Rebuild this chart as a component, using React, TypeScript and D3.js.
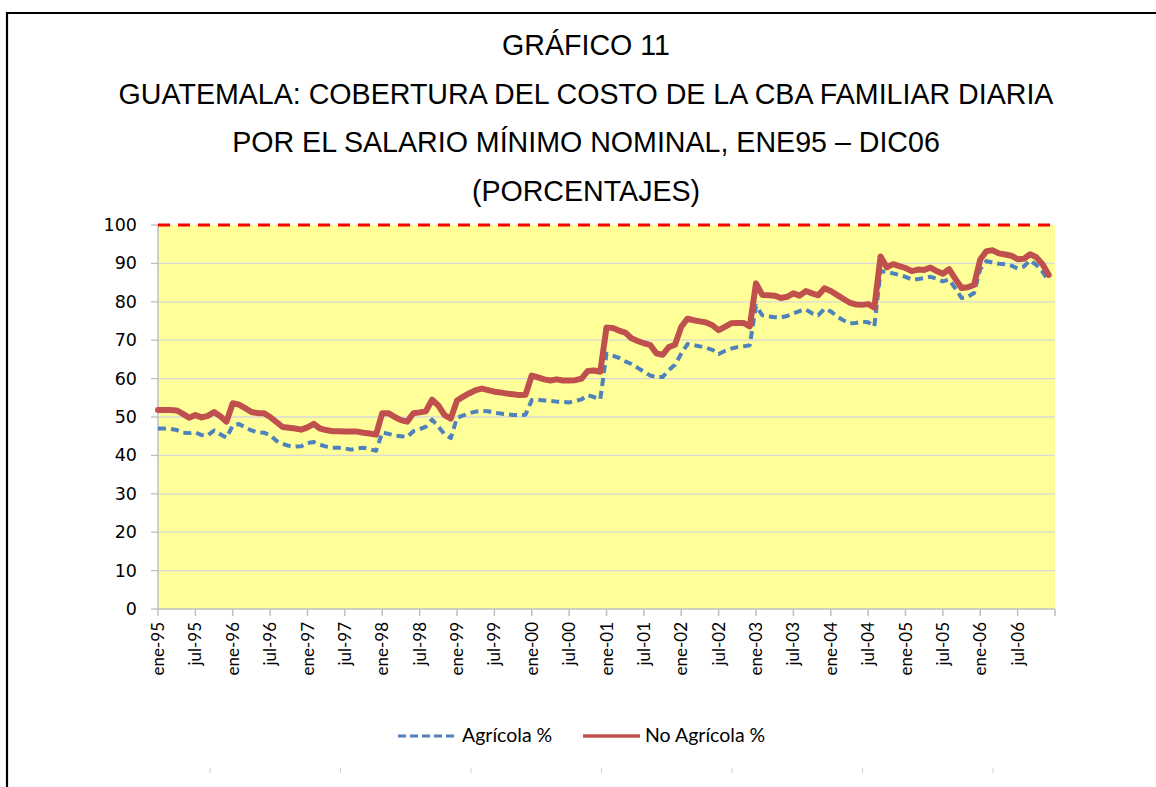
import React from "react";
import * as d3 from "d3";

const titleLines = [
  "GRÁFICO 11",
  "GUATEMALA: COBERTURA DEL COSTO DE LA CBA FAMILIAR DIARIA",
  "POR EL SALARIO MÍNIMO NOMINAL, ENE95 – DIC06",
  "(PORCENTAJES)",
];

const xTickLabels = [
  "ene-95", "jul-95", "ene-96", "jul-96", "ene-97", "jul-97", "ene-98", "jul-98",
  "ene-99", "jul-99", "ene-00", "jul-00", "ene-01", "jul-01", "ene-02", "jul-02",
  "ene-03", "jul-03", "ene-04", "jul-04", "ene-05", "jul-05", "ene-06", "jul-06",
];

const yTicks = [0, 10, 20, 30, 40, 50, 60, 70, 80, 90, 100];

const noAgricola = [
  51.8, 51.8, 51.8, 51.7, 50.8, 49.8, 50.5, 49.9, 50.3, 51.3, 50.2, 48.8,
  53.6, 53.2, 52.3, 51.3, 51.0, 51.0, 50.0, 48.7, 47.4, 47.2, 47.0, 46.7,
  47.3, 48.2, 47.0, 46.6, 46.3, 46.3, 46.2, 46.2, 46.2, 45.9, 45.7, 45.4,
  51.0, 51.0, 50.0, 49.2, 48.8, 51.0, 51.2, 51.5, 54.5, 53.0, 50.5, 49.6,
  54.3, 55.3, 56.2, 57.0, 57.4, 57.0, 56.6, 56.4, 56.1, 55.9, 55.7, 55.8,
  60.8, 60.3, 59.8, 59.5, 59.8, 59.5, 59.5, 59.6, 60.0, 62.0, 62.1, 61.8,
  73.3, 73.2, 72.5, 72.0, 70.5, 69.8, 69.2, 68.8, 66.6, 66.2, 68.2, 68.8,
  73.5, 75.6, 75.2, 74.9, 74.6, 73.9, 72.6, 73.5, 74.4, 74.5, 74.5, 73.6,
  84.8, 81.8, 81.7, 81.6, 81.0, 81.3, 82.2, 81.6, 82.8, 82.2, 81.7, 83.5,
  82.8, 81.8, 80.8, 79.8, 79.3, 79.2, 79.4, 78.5, 91.8, 89.0, 89.8, 89.3,
  88.8, 88.0, 88.4, 88.3, 88.9, 88.0, 87.3, 88.5, 86.0, 83.6, 83.8, 84.4,
  91.0, 93.2, 93.4, 92.6, 92.3, 92.0, 91.1, 91.2, 92.4, 91.6, 89.8, 87.0,
];

const agricola = [
  47.0, 47.0, 46.9, 46.6, 45.9, 45.8, 46.0, 45.3, 45.2, 46.5, 45.5, 44.6,
  47.8, 48.2, 47.3, 46.5, 46.0, 45.9, 45.3, 43.8, 43.0, 42.5, 42.3, 42.4,
  43.2, 43.5, 42.8, 42.3, 42.0, 42.0, 41.8, 41.5, 41.8, 42.0, 41.6, 41.2,
  46.0, 45.6, 45.2, 45.0, 44.8, 46.3, 46.8, 47.5, 49.3, 47.5, 45.5, 44.5,
  49.8, 50.4, 51.0, 51.4, 51.6, 51.5, 51.1, 50.9, 50.7, 50.5, 50.5, 50.6,
  54.4, 54.5, 54.3, 54.2, 54.0, 53.9, 53.8, 54.2, 54.6, 55.7, 55.2, 54.6,
  66.5, 66.0, 65.4, 64.5, 63.8, 62.8, 61.8, 60.8, 60.4, 60.4, 62.2, 63.6,
  66.5, 69.0, 68.7, 68.4, 68.0, 67.5, 66.4, 67.2, 67.8, 68.2, 68.4, 68.7,
  79.0, 76.5, 76.2, 76.0, 75.9, 76.3, 77.0, 77.6, 78.0, 77.0, 76.5, 78.2,
  77.5, 76.2, 75.2, 74.4, 74.5, 74.8, 74.7, 73.6, 88.0, 87.8, 87.4, 87.0,
  86.5, 85.8, 85.9, 86.2, 86.5, 86.0, 85.3, 85.8, 83.5, 81.0, 81.3, 82.3,
  88.5, 90.6, 90.2, 89.9, 89.8, 89.4, 88.7, 89.2, 90.8, 89.6, 87.8, 85.4,
];

const legendLabels = ["Agrícola %", "No Agrícola %"];
const footerMarks = [210, 340.5, 471, 601.5, 732, 862.5, 993];

const W = 1156;
const H = 787;
const plotL = 158;
const plotR = 1055;
const plotT = 225;
const plotB = 609;

export default function App() {
  const x = d3.scaleLinear().domain([0, 144]).range([plotL, plotR]);
  const y = d3.scaleLinear().domain([0, 100]).range([plotB, plotT]);
  const line = d3
    .line<number>()
    .x((_, i) => x(i))
    .y((d) => y(d));
  const blue = "#4F81BD";
  const red = "#C0504D";
  const axisGray = "#BFBFBF";
  const labelFont = "'Lato', 'Open Sans', sans-serif";

  return (
    <svg
      width={W}
      height={H}
      style={{ position: "absolute", left: 0, top: 0, background: "#fff" }}
    >
      <rect x={0} y={0} width={W} height={H} fill="#fff" />
      {/* frame */}
      <line x1={7} y1={13} x2={W} y2={13} stroke="#000" strokeWidth={2.2} />
      <line x1={7} y1={12} x2={7} y2={H} stroke="#000" strokeWidth={2.2} />

      {titleLines.map((t, i) => (
        <text
          key={i}
          x={586}
          y={55 + i * 48.5}
          textAnchor="middle"
          fontFamily="'Liberation Sans', Arial, sans-serif"
          fontSize={28.6}
          fill="#000"
        >
          {t}
        </text>
      ))}

      <rect
        x={plotL}
        y={plotT}
        width={plotR - plotL}
        height={plotB - plotT}
        fill="#FFFF99"
      />
      {yTicks.slice(1, -1).map((t) => (
        <line
          key={t}
          x1={plotL}
          x2={plotR}
          y1={y(t)}
          y2={y(t)}
          stroke="#D9D9D9"
          strokeWidth={1.3}
        />
      ))}
      {yTicks.map((t) => (
        <g key={"yt" + t}>
          <line
            x1={plotL - 7}
            x2={plotL}
            y1={y(t)}
            y2={y(t)}
            stroke={axisGray}
            strokeWidth={1.3}
          />
          <text
            x={137}
            y={y(t) + 6}
            textAnchor="end"
            fontFamily="'DejaVu Sans', Verdana, sans-serif"
            fontSize={17.5}
            fill="#000"
          >
            {t}
          </text>
        </g>
      ))}
      <line x1={plotL} x2={plotL} y1={plotT} y2={plotB} stroke={axisGray} strokeWidth={1.5} />
      <line x1={plotL} x2={plotR} y1={plotB} y2={plotB} stroke={axisGray} strokeWidth={1.5} />
      {d3.range(0, 145, 6).map((i) => (
        <line
          key={"xt" + i}
          x1={x(i)}
          x2={x(i)}
          y1={plotB}
          y2={plotB + 7}
          stroke={axisGray}
          strokeWidth={1.5}
        />
      ))}
      {xTickLabels.map((lab, k) => (
        <text
          key={lab}
          transform={`translate(${x(k * 6) + 6},${plotB + 13}) rotate(-90)`}
          textAnchor="end"
          fontFamily={labelFont}
          fontSize={17}
          fill="#000"
        >
          {lab}
        </text>
      ))}

      {/* 100% reference */}
      <line
        x1={plotL}
        x2={plotR}
        y1={y(100)}
        y2={y(100)}
        stroke="#FF0000"
        strokeWidth={3}
        strokeDasharray="12 8"
      />

      <path
        d={line(agricola) || ""}
        fill="none"
        stroke={blue}
        strokeWidth={4}
        strokeDasharray="8 5"
        strokeLinejoin="round"
      />
      <path
        d={line(noAgricola) || ""}
        fill="none"
        stroke={red}
        strokeWidth={6}
        strokeLinejoin="round"
        strokeLinecap="round"
      />

      {/* legend */}
      <line x1={398} x2={456} y1={736} y2={736} stroke={blue} strokeWidth={3} strokeDasharray="8 4" />
      <text x={462} y={742} fontFamily={labelFont} fontSize={19.5} fill="#000">
        {legendLabels[0]}
      </text>
      <line x1={583} x2={640} y1={736} y2={736} stroke={red} strokeWidth={3.5} />
      <text x={645} y={742} fontFamily={labelFont} fontSize={19.5} fill="#000">
        {legendLabels[1]}
      </text>

      {footerMarks.map((m) => (
        <line key={m} x1={m} x2={m} y1={768} y2={773} stroke="#D0D0D0" strokeWidth={1} />
      ))}
    </svg>
  );
}
